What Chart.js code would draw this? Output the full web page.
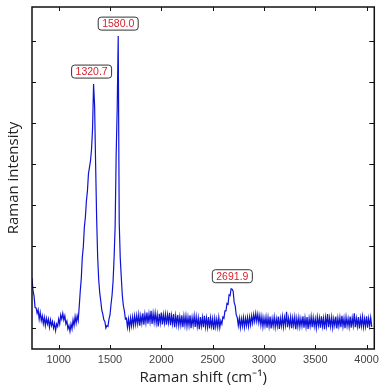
<!DOCTYPE html>
<html>
<head>
<meta charset="utf-8">
<script src="https://cdn.jsdelivr.net/npm/chart.js@4/dist/chart.umd.min.js"></script>
<style>
  body { margin: 0; background: #fff; }
  canvas { display: block; }
</style>
</head>
<body>
<canvas id="chart" width="383" height="389" style="width:383px;height:389px"></canvas>
<script>
// spectrum sampled every 10 cm-1 starting at 740 cm-1
const shiftStart = 740;
const shiftStep = 10;
const intensity = [
  1.22, 0.92, 0.78, 0.50, 0.49, 0.36, 0.45, 0.22, 0.38, 0.18, // 740
  0.30, 0.11, 0.26, 0.06, 0.24, 0.10, 0.22, 0.02, 0.20, 0.06, // 840
  0.16, 0.00, 0.12, -0.06, 0.10, 0.04, 0.22, 0.10, 0.32, 0.22, // 940
  0.36, 0.20, 0.30, 0.10, 0.17, -0.02, 0.06, -0.08, 0.10, -0.02, // 1040
  0.20, 0.06, 0.28, 0.12, 0.30, 0.18, 0.52, 0.90, 1.20, 1.72, // 1140
  1.98, 2.46, 2.70, 3.10, 3.34, 3.76, 3.92, 4.08, 4.36, 4.86, // 1240
  5.95, 5.42, 3.98, 2.66, 1.72, 1.18, 0.86, 0.66, 0.44, 0.34, // 1340
  0.20, 0.16, 0.00, 0.06, 0.04, 0.22, 0.32, 0.58, 0.80, 1.14, // 1440
  1.72, 2.48, 4.22, 5.34, 7.12, 2.55, 1.70, 1.24, 0.80, 0.55, // 1540
  0.42, 0.22, 0.24, 0.02, 0.22, 0.00, 0.25, 0.05, 0.27, 0.06, // 1640
  0.30, 0.09, 0.31, 0.10, 0.33, 0.06, 0.30, 0.12, 0.36, 0.08, // 1740
  0.34, 0.13, 0.38, 0.11, 0.35, 0.15, 0.42, 0.10, 0.36, 0.14, // 1840
  0.37, 0.12, 0.33, 0.04, 0.35, 0.13, 0.38, 0.09, 0.33, 0.12, // 1940
  0.34, 0.08, 0.33, 0.13, 0.37, 0.07, 0.31, 0.10, 0.34, 0.02, // 2040
  0.30, 0.08, 0.32, 0.06, 0.28, 0.07, 0.31, 0.02, 0.29, 0.07, // 2140
  0.30, 0.04, 0.27, 0.06, 0.31, 0.00, 0.26, 0.07, 0.30, 0.03, // 2240
  0.28, 0.04, 0.25, -0.03, 0.27, 0.05, 0.26, 0.02, 0.30, 0.03, // 2340
  0.25, 0.02, 0.27, -0.01, 0.25, 0.04, 0.23, -0.04, 0.24, 0.03, // 2440
  0.22, 0.02, 0.26, 0.01, 0.18, 0.10, 0.27, 0.24, 0.42, 0.42, // 2540
  0.60, 0.58, 0.81, 0.79, 0.96, 0.95, 0.90, 0.62, 0.54, 0.32, // 2640
  0.26, 0.06, 0.24, 0.01, 0.23, 0.05, 0.26, 0.02, 0.24, 0.06, // 2740
  0.26, 0.04, 0.27, 0.08, 0.30, 0.12, 0.33, 0.16, 0.36, 0.16, // 2840
  0.34, 0.13, 0.31, 0.07, 0.28, 0.03, 0.25, 0.06, 0.27, 0.01, // 2940
  0.26, 0.04, 0.28, -0.01, 0.23, 0.05, 0.27, 0.02, 0.23, 0.05, // 3040
  0.28, -0.02, 0.24, 0.05, 0.28, 0.03, 0.26, 0.07, 0.40, 0.02, // 3140
  0.24, 0.05, 0.27, 0.00, 0.25, 0.06, 0.27, -0.03, 0.24, 0.04, // 3240
  0.26, 0.03, 0.23, 0.05, 0.29, 0.01, 0.25, 0.03, 0.27, -0.02, // 3340
  0.24, 0.05, 0.28, 0.02, 0.26, 0.04, 0.23, 0.00, 0.27, 0.06, // 3440
  0.25, 0.01, 0.29, 0.04, 0.24, -0.03, 0.26, 0.05, 0.34, 0.02, // 3540
  0.25, 0.04, 0.27, 0.01, 0.23, 0.06, 0.28, -0.01, 0.25, 0.05, // 3640
  0.26, 0.02, 0.30, 0.04, 0.24, 0.00, 0.27, 0.05, 0.23, 0.03, // 3740
  0.28, 0.01, 0.25, 0.06, 0.36, 0.02, 0.24, 0.04, 0.27, -0.01, // 3840
  0.25, 0.05, 0.28, 0.02, 0.23, 0.04, 0.29, 0.01, 0.24, 0.05, // 3940
  0.26, 0.03 // 4040
];

const xTicks = [1000, 1500, 2000, 2500, 3000, 3500, 4000];
const yTicks = [0, 1, 2, 3, 4, 5, 6, 7];

const peakLabels = ["1320.7", "1580.0", "2691.9"];
const peakShifts = [1320.7, 1580.0, 2691.9];

const points = intensity.map((v, i) => ({ x: shiftStart + i * shiftStep, y: v }));

// black frame with inward ticks on all four sides
const framePlugin = {
  id: "frame",
  afterDraw(chart) {
    const { ctx, chartArea: a, scales } = chart;
    ctx.save();
    ctx.strokeStyle = "#111";
    ctx.lineWidth = 1.5;
    ctx.strokeRect(a.left, a.top, a.right - a.left, a.bottom - a.top);
    ctx.lineWidth = 1;
    ctx.beginPath();
    xTicks.forEach((t) => {
      const px = Math.round(scales.x.getPixelForValue(t)) + 0.5;
      ctx.moveTo(px, a.bottom);
      ctx.lineTo(px, a.bottom - 4);
      ctx.moveTo(px, a.top);
      ctx.lineTo(px, a.top + 4);
    });
    yTicks.forEach((t) => {
      const py = Math.round(scales.y.getPixelForValue(t)) + 0.5;
      ctx.moveTo(a.left, py);
      ctx.lineTo(a.left + 4, py);
      ctx.moveTo(a.right, py);
      ctx.lineTo(a.right - 5, py);
    });
    ctx.stroke();
    ctx.restore();
  },
};

// boxed red labels above the peaks
const peakPlugin = {
  id: "peaks",
  afterDatasetsDraw(chart) {
    const { ctx, scales } = chart;
    ctx.save();
    ctx.font = "10.5px 'Liberation Sans', Arial, sans-serif";
    ctx.textAlign = "center";
    ctx.textBaseline = "middle";
    peakLabels.forEach((label, i) => {
      const s = peakShifts[i];
      let top = -Infinity;
      points.forEach((p) => {
        if (Math.abs(p.x - s) <= 40 && p.y > top) top = p.y;
      });
      const cx = scales.x.getPixelForValue(s);
      const bottom = scales.y.getPixelForValue(top) - 6;
      const w = 40, h = 13;
      ctx.beginPath();
      ctx.roundRect(cx - w / 2, bottom - h, w, h, 3);
      ctx.fillStyle = "#fff";
      ctx.fill();
      ctx.strokeStyle = "#333";
      ctx.lineWidth = 1;
      ctx.stroke();
      ctx.fillStyle = "#d81e2a";
      ctx.fillText(label, cx, bottom - h / 2 + 0.5);
    });
    ctx.restore();
  },
};

new Chart(document.getElementById("chart"), {
  type: "line",
  data: {
    datasets: [
      {
        data: points,
        borderColor: "rgb(14, 18, 215)",
        borderWidth: 1.2,
        pointRadius: 0,
        tension: 0,
        fill: false,
      },
    ],
  },
  options: {
    responsive: false,
    animation: false,
    layout: { padding: { top: 7, right: 8, left: 0, bottom: 0 } },
    plugins: {
      legend: { display: false },
      tooltip: { enabled: false },
    },
    scales: {
      x: {
        type: "linear",
        min: 740,
        max: 4075,
        afterBuildTicks: (s) => {
          s.ticks = xTicks.map((v) => ({ value: v }));
        },
        afterFit: (s) => {
          s.height = 40;
        },
        grid: { display: false, drawTicks: false },
        border: { display: false },
        ticks: {
          padding: 4,
          maxRotation: 0,
          autoSkip: false,
          color: "#444",
          font: { family: "'Liberation Sans', Arial, sans-serif", size: 11 },
          callback: (v) => String(v),
        },
        title: {
          display: true,
          text: "Raman shift (cm\u207B\u00B9)",
          color: "#222",
          padding: { top: 0, bottom: 2 },
          font: { family: "'Open Sans', sans-serif", size: 15 },
        },
      },
      y: {
        type: "linear",
        min: -0.51,
        max: 7.83,
        afterBuildTicks: (s) => {
          s.ticks = yTicks.map((v) => ({ value: v }));
        },
        afterFit: (s) => {
          s.width = 32;
        },
        grid: { display: false, drawTicks: false },
        border: { display: false },
        ticks: { display: false },
        title: {
          display: true,
          text: "Raman intensity",
          color: "#222",
          padding: { top: 5, bottom: 0 },
          font: { family: "'Open Sans', sans-serif", size: 15 },
        },
      },
    },
  },
  plugins: [framePlugin, peakPlugin],
});
</script>
</body>
</html>
